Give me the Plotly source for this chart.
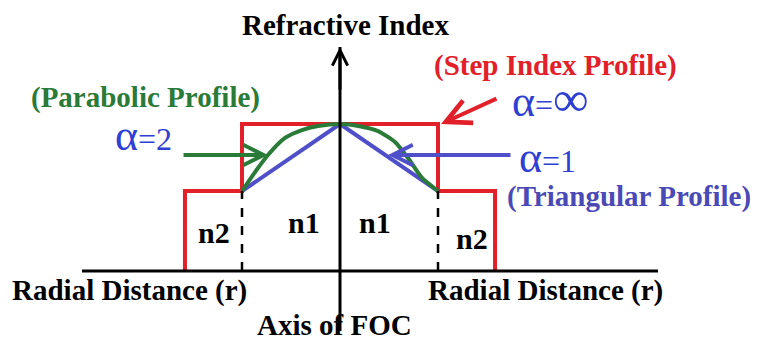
import plotly.graph_objects as go

# refractive index levels (normalised, core = 1)
n1 = 1.0
n2 = 0.544
core_r = 1.0
clad_r = 1.582

# step index profile (alpha = infinity)
step_r = [-clad_r, -clad_r, -core_r, -core_r, core_r, core_r, clad_r, clad_r]
step_n = [0, n2, n2, n1, n1, n2, n2, 0]

# triangular profile (alpha = 1)
tri_r = [-core_r, 0, core_r]
tri_n = [n2, n1, n2]

# parabolic profile (alpha = 2)
par_r = [-1.0, -0.867, -0.735, -0.561, -0.388, -0.224, 0.0, 0.2, 0.388, 0.561, 0.694, 0.837, 1.0]
par_n = [0.544, 0.673, 0.789, 0.905, 0.959, 0.986, 1.0, 0.985, 0.952, 0.878, 0.769, 0.633, 0.544]

# axes extents
h_axis = [-2.633, 3.245]
v_axis = [-0.408, 1.524]

RED = "#e2202a"
GREEN = "#2a7a38"
BLUE = "#4f4fca"
ABLUE = "#2f3fd2"
TBLUE = "#4a4ab6"
SERIF = "Liberation Serif"

fig = go.Figure()
fig.add_trace(go.Scatter(x=step_r, y=step_n, mode="lines", line=dict(color=RED, width=4)))
fig.add_trace(go.Scatter(x=tri_r, y=tri_n, mode="lines", line=dict(color=BLUE, width=4)))
fig.add_trace(go.Scatter(x=par_r, y=par_n, mode="lines",
                         line=dict(color=GREEN, width=4, shape="spline", smoothing=0.6)))
for r in [-core_r, core_r]:
    fig.add_trace(go.Scatter(x=[r, r], y=[0, n2], mode="lines",
                             line=dict(color="black", width=2.5, dash="dash")))

fig.add_shape(type="line", x0=h_axis[0], x1=h_axis[1], y0=0, y1=0, line=dict(color="black", width=3))
fig.add_shape(type="line", x0=0, x1=0, y0=v_axis[0], y1=v_axis[1], line=dict(color="black", width=3))

def arrow(tip, tail, color, width, size=1.0):
    fig.add_annotation(x=tip[0], y=tip[1], ax=tail[0], ay=tail[1], axref="x", ayref="y",
                       text="", showarrow=True, arrowhead=5, arrowsize=size,
                       arrowwidth=width, arrowcolor=color)

arrow((0, v_axis[1]), (0, v_axis[1] - 0.3), "black", 3)
arrow((-0.735, 0.789), (-1.612, 0.789), GREEN, 4)
arrow((0.49, 0.789), (1.755, 0.789), BLUE, 4)
arrow((1.031, 1.0), (1.612, 1.177), RED, 4, 1.2)

def label(x, y, txt, color="black", size=29, weight="bold"):
    fig.add_annotation(x=x, y=y, text=txt, showarrow=False,
                       font=dict(family=SERIF, size=size, color=color, weight=weight))

label(0.051, 1.673, "Refractive Index")
label(2.194, 1.401, "(Step Index Profile)", RED)
label(-1.98, 1.177, "(Parabolic Profile)", GREEN)
label(2.95, 0.51, "(Triangular Profile)", TBLUE)
label(2.143, 1.17, "<span style='font-size:44px'>α</span>=<span style='font-size:50px'>∞</span>",
      ABLUE, 32, "normal")
label(-2.01, 0.925, "<span style='font-size:44px'>α</span>=2", ABLUE, 32, "normal")
label(2.12, 0.77, "<span style='font-size:44px'>α</span>=1", ABLUE, 32, "normal")
label(-1.286, 0.259, "n2", size=30)
label(-0.367, 0.327, "n1", size=30)
label(0.357, 0.327, "n1", size=30)
label(1.347, 0.224, "n2", size=30)
label(-2.143, -0.136, "Radial Distance (r)")
label(2.092, -0.136, "Radial Distance (r)")
label(-0.061, -0.37, "Axis of FOC")

# the page body adds an 8px margin, so the figure covers the window from (8, 8)
fig.update_xaxes(visible=False, range=[-332 / 98, 418 / 98])
fig.update_yaxes(visible=False, range=[-66 / 147, 263 / 147])
fig.update_layout(width=750, height=329, margin=dict(l=0, r=0, t=0, b=0),
                  plot_bgcolor="white", paper_bgcolor="white", showlegend=False)
fig.write_html("out.html")
